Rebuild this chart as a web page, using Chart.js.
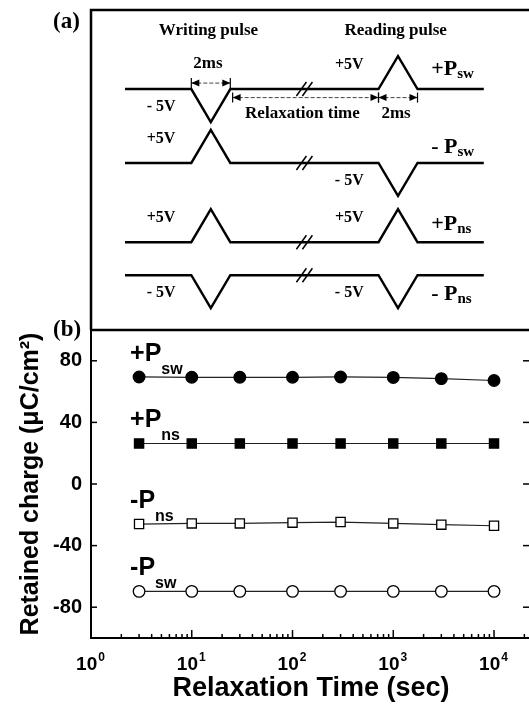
<!DOCTYPE html>
<html>
<head>
<meta charset="utf-8">
<script src="https://cdn.jsdelivr.net/npm/chart.js@4.4.1/dist/chart.umd.min.js"></script>
<style>
  html, body { margin:0; padding:0; background:#fff; overflow:hidden; width:529px; height:705px; }
  #wrap { position:relative; width:545px; height:705px; }
  #pulse  { position:absolute; left:0; top:0; }
  #charge { position:absolute; left:0; top:300px; }
</style>
</head>
<body>
<div id="wrap">
  <canvas id="pulse" width="545" height="330"></canvas>
  <canvas id="charge" width="545" height="405"></canvas>
</div>
<script>
// ── (a) pulse sequences: time points of one trace (ms, schematic) ─────────
const waveTime  = [0, 3.4, 4.4, 5.4, 13, 14, 15, 18.4];
const writeVolt = [-5, 5, 5, -5];
const readVolt  = [5, -5, 5, -5];
const rowName   = ['+P', '- P', '+P', '- P'];
const rowSub    = ['sw', 'sw', 'ns', 'ns'];

// ── (b) retained charge vs relaxation time ────────────────────────────────
const relaxTime = [3, 10, 30, 100, 300, 1000, 3000, 10000];
const plusPsw   = [69.5, 69.3, 69.3, 69.3, 69.5, 69.2, 68.4, 67.2];
const plusPns   = [26.3, 26.3, 26.3, 26.3, 26.3, 26.3, 26.3, 26.3];
const minusPns  = [-26, -25.6, -25.6, -25.1, -24.7, -25.6, -26.4, -27.1];
const minusPsw  = [-69.7, -69.7, -69.7, -69.7, -69.7, -69.7, -69.7, -69.7];
const seriesName = ['+P', '+P', '-P', '-P'];
const seriesSub  = ['sw', 'ns', 'ns', 'sw'];
const yTicks    = [-80, -40, 0, 40, 80];
const xDecades  = [0, 1, 2, 3, 4];

// layout of the schematic (drawing units, not data)
const ROW_LEVEL = [0, -11.2, -23.2, -28.2];
const P_DY      = [2.1, 1.5, 1.8, -3.8];
const SERIF = '"Liberation Serif", "Times New Roman", serif';
const SANS  = '"Liberation Sans", Arial, sans-serif';

const line = (ctx, x1, y1, x2, y2) => { ctx.beginPath(); ctx.moveTo(x1, y1); ctx.lineTo(x2, y2); ctx.stroke(); };

// ── Chart (a) ─────────────────────────────────────────────────────────────
const wave = i => waveTime.map((t, j) => ({
  x: t,
  y: ROW_LEVEL[i] + (j === 2 ? writeVolt[i] : j === 5 ? readVolt[i] : 0),
}));
const shaft = (a, b, v) => [{ x:a, y:v }, { x:b, y:v }];
const ARROW_HI = 0.9, ARROW_LO = -1.3;
const arrows = [
  [waveTime[1], waveTime[3], ARROW_HI],
  [waveTime[3] + 0.12, waveTime[4], ARROW_LO],
  [waveTime[4], waveTime[6], ARROW_LO],
];

const pulseDeco = {
  id: 'pulseDeco',
  afterDraw(c) {
    const { ctx, chartArea: a, scales: { x, y } } = c;
    const X = t => x.getPixelForValue(t), Y = v => y.getPixelForValue(v);
    ctx.save();
    ctx.strokeStyle = '#000'; ctx.fillStyle = '#000';
    // frame
    ctx.lineWidth = 2.5;
    ctx.beginPath(); ctx.moveTo(a.left, c.height); ctx.lineTo(a.left, a.top); ctx.lineTo(c.width, a.top); ctx.stroke();

    // arrow heads and end bars
    ctx.lineWidth = 1.2;
    const head = (px, py, dir) => {
      ctx.beginPath(); ctx.moveTo(px, py); ctx.lineTo(px - dir * 8, py - 3.5); ctx.lineTo(px - dir * 8, py + 3.5); ctx.closePath(); ctx.fill();
    };
    arrows.forEach(([t1, t2, v]) => {
      const p1 = X(t1), p2 = X(t2), py = Y(v);
      head(p1, py, -1); head(p2, py, 1);
      line(ctx, p1, py - 5, p1, py + 5); line(ctx, p2, py - 5, p2, py + 5);
    });

    // axis break marks
    ctx.lineWidth = 1.5;
    const tb = (waveTime[3] + waveTime[4]) / 2;
    ROW_LEVEL.forEach(lv => {
      const cx = X(tb), cy = Y(lv);
      [-3, 3].forEach(dx => line(ctx, cx + dx - 5, cy + 7, cx + dx + 5, cy - 7));
    });

    // texts
    const txt = (s, px, py, size, align) => {
      ctx.font = 'bold ' + size + 'px ' + SERIF; ctx.textAlign = align || 'center'; ctx.textBaseline = 'alphabetic';
      ctx.fillText(s, px, py);
    };
    txt('Writing pulse', X(waveTime[2] - 0.12), Y(8.2), 17);
    txt('Reading pulse', X(waveTime[5] - 0.12), Y(8.2), 17);
    txt('2ms', X(waveTime[2] - 0.15), Y(3.2), 17);
    txt('Relaxation time', X(tb - 0.1), Y(-4.4), 17);
    txt('2ms', X(waveTime[5] - 0.1), Y(-4.4), 17);
    const vLabel = v => v > 0 ? '+5V' : '- 5V';
    ROW_LEVEL.forEach((lv, i) => {
      const w = writeVolt[i], r = readVolt[i];
      txt(vLabel(w), X(waveTime[1] - 1.55), Y(lv + (w > 0 ? 3.1 : -3.3)), 16);
      txt(vLabel(r), X(waveTime[4] - 1.5), Y(lv + (r > 0 ? 3.1 : -3.3)), 16);
      // row name with subscript
      const px = X(waveTime[7] - 2.7), py = Y(lv + P_DY[i]);
      ctx.font = 'bold 22px ' + SERIF; ctx.textAlign = 'left';
      ctx.fillText(rowName[i], px, py);
      const wN = ctx.measureText(rowName[i]).width;
      ctx.font = 'bold 15px ' + SERIF;
      ctx.fillText(rowSub[i], px + wN, py + 3);
    });
    txt('(a)', 53, 28, 23, 'left');
    ctx.restore();
  },
};

const pulseSets = [0, 1, 2, 3].map(i => ({
  data: wave(i), borderColor:'#000', borderWidth:2.4, pointRadius:0, showLine:true,
}));
const arrowSets = arrows.map(([t1, t2, v]) => ({
  data: shaft(t1, t2, v), borderColor:'#444', borderWidth:1, borderDash:[4, 2], pointRadius:0, showLine:true,
}));

new Chart(document.getElementById('pulse'), {
  type: 'scatter',
  data: { datasets: [...pulseSets, ...arrowSets] },
  options: {
    responsive:false, animation:false, devicePixelRatio:1,
    layout:{ padding:{ left:91, right:14, top:10, bottom:0 } },
    plugins:{ legend:{ display:false }, tooltip:{ enabled:false } },
    scales:{
      x:{ type:'linear', display:false, min:-1.744, max:20.82 },
      y:{ type:'linear', display:false, min:-36.5, max:11.97 },
    },
  },
  plugins:[pulseDeco],
});

// ── Chart (b) ─────────────────────────────────────────────────────────────
const chargeDeco = {
  id: 'chargeDeco',
  afterDraw(c) {
    const { ctx, chartArea: a, scales: { x, y } } = c;
    ctx.save();
    ctx.strokeStyle = '#000'; ctx.fillStyle = '#000';
    // divider between the two panels
    ctx.lineWidth = 2.5;
    line(ctx, a.left - 1, a.top, c.width, a.top);
    // inward ticks
    ctx.lineWidth = 1.5;
    yTicks.forEach(v => {
      const py = y.getPixelForValue(v);
      line(ctx, a.left, py, a.left + 6, py);
      line(ctx, a.right - 8, py, a.right, py);
    });
    xDecades.forEach(k => {
      for (let m = 1; m <= 9; m++) {
        const val = m * Math.pow(10, k);
        if (val > x.max) break;
        const px = x.getPixelForValue(val);
        line(ctx, px, a.bottom, px, a.bottom - (m === 1 ? 8 : 4));
      }
    });
    // decade labels 10^k
    ctx.textBaseline = 'alphabetic'; ctx.textAlign = 'left';
    xDecades.forEach(k => {
      const px = x.getPixelForValue(Math.pow(10, k));
      ctx.font = 'bold 19px ' + SANS;
      const w1 = ctx.measureText('10').width;
      ctx.font = 'bold 12px ' + SANS;
      const w2 = ctx.measureText(String(k)).width;
      const x0 = px - (w1 + w2) / 2 - 1;
      ctx.font = 'bold 19px ' + SANS;
      ctx.fillText('10', x0, a.bottom + 32);
      ctx.font = 'bold 12px ' + SANS;
      ctx.fillText(String(k), x0 + w1 + 1, a.bottom + 23);
    });
    // series names next to first point
    [plusPsw, plusPns, minusPns, minusPsw].forEach((vals, i) => {
      const px = x.getPixelForValue(relaxTime[0]) - 9;
      const py = y.getPixelForValue(vals[0]);
      ctx.font = 'bold 25px ' + SANS;
      ctx.fillText(seriesName[i], px, py - 16);
      const wN = ctx.measureText(seriesName[i]).width;
      ctx.font = 'bold 16px ' + SANS;
      ctx.fillText(seriesSub[i], px + wN, py - 3);
    });
    ctx.font = 'bold 23px ' + SERIF;
    ctx.fillText('(b)', 53, a.top + 6);
    ctx.restore();
  },
};

const pts = vals => relaxTime.map((t, i) => ({ x:t, y:vals[i] }));
const series = (vals, style, filled) => ({
  data: pts(vals), showLine:true,
  borderColor:'#222', borderWidth:1.2,
  pointStyle: style, pointRadius: style === 'rect' ? 6.5 : 5.8,
  pointBackgroundColor: filled ? '#000' : '#fff',
  pointBorderColor:'#000', pointBorderWidth:1.3,
});

new Chart(document.getElementById('charge'), {
  type: 'scatter',
  data: { datasets: [
    series(plusPsw, 'circle', true),
    series(plusPns, 'rect', true),
    series(minusPns, 'rect', false),
    series(minusPsw, 'circle', false),
  ] },
  options: {
    responsive:false, animation:false, devicePixelRatio:1,
    layout:{ padding:{ left:0, right:14, top:30, bottom:0 } },
    plugins:{ legend:{ display:false }, tooltip:{ enabled:false } },
    scales:{
      x:{
        type:'logarithmic', min:1, max:Math.pow(10, 4.367),
        grid:{ display:false, drawTicks:false },
        border:{ display:true, color:'#000', width:2 },
        ticks:{ display:false },
        title:{ display:true, text:'Relaxation Time (sec)', color:'#000',
                font:{ family:SANS, weight:'bold', size:27 }, padding:{ top:0, bottom:0 } },
        afterFit: s => { s.height = 67; },
      },
      y:{
        type:'linear', min:-100, max:100,
        afterBuildTicks: s => { s.ticks = yTicks.map(v => ({ value:v })); },
        grid:{ display:false, drawTicks:false },
        border:{ display:true, color:'#000', width:2 },
        ticks:{ color:'#000', padding:9, font:{ family:SANS, weight:'bold', size:20 } },
        title:{ display:true, text:'Retained charge (\u03bcC/cm\u00b2)', color:'#000',
                font:{ family:SANS, weight:'bold', size:25 }, padding:{ top:16, bottom:0 } },
        afterFit: s => { s.width = 91; },
      },
    },
  },
  plugins:[chargeDeco],
});
</script>
</body>
</html>
